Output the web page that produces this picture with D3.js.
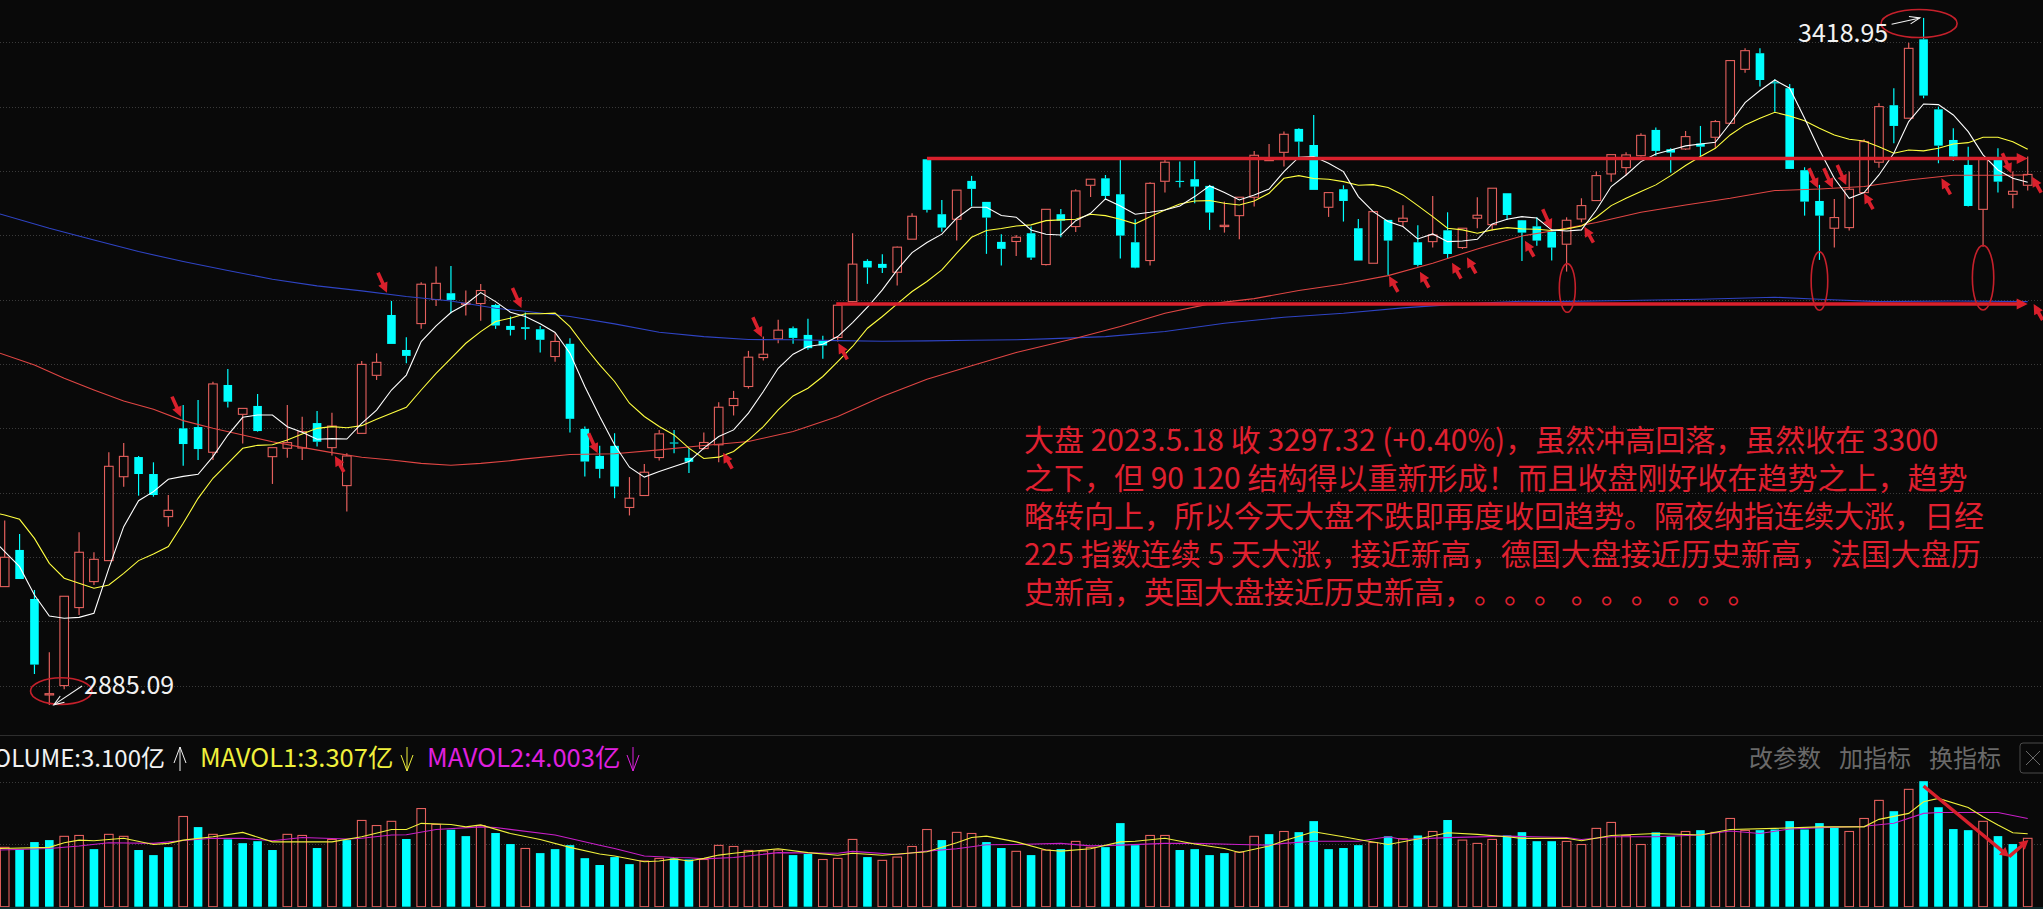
<!DOCTYPE html>
<html>
<head>
<meta charset="utf-8">
<script src="https://cdn.jsdelivr.net/npm/d3@7/dist/d3.min.js"></script>
<style>
html, body { margin: 0; padding: 0; background: #090909; overflow: hidden; }
svg { display: block; }
text { font-family: "Noto Sans CJK SC", "Noto Sans", sans-serif; text-spacing-trim: space-all; }
</style>
</head>
<body>
<div id="chart"></div>
<script>
// daily candles, index points
var opens = [2977.0,3005.5,2967.4,2892.8,2900.1,2960.7,2980.9,2997.2,3062.4,3077.7,3064.5,3031.4,3100.0,3101.0,3081.4,3133.7,3110.9,3117.4,3078.0,3084.5,3084.7,3104.1,3085.0,3055.5,3096.1,3141.2,3188.1,3160.9,3181.4,3200.1,3205.0,3196.4,3197.0,3195.9,3179.6,3178.6,3177.0,3155.8,3165.7,3099.6,3078.6,3086.4,3038.5,3047.8,3077.3,3089.0,3077.1,3084.3,3087.2,3117.7,3132.5,3155.0,3169.5,3177.8,3172.6,3168.0,3170.6,3198.5,3230.1,3227.8,3221.3,3247.0,3309.1,3266.4,3262.5,3292.3,3276.0,3244.9,3245.2,3251.6,3227.3,3266.4,3256.8,3288.9,3294.3,3281.9,3244.6,3230.4,3292.0,3292.3,3293.6,3288.4,3256.8,3265.3,3279.6,3308.1,3314.5,3332.7,3320.2,3271.8,3285.8,3255.5,3228.3,3262.0,3260.7,3244.6,3245.1,3253.9,3240.5,3263.3,3258.3,3282.7,3261.7,3257.0,3252.9,3243.1,3262.7,3277.0,3297.7,3302.6,3311.9,3331.9,3316.9,3317.1,3321.3,3326.2,3337.1,3379.0,3391.5,3368.9,3364.3,3300.6,3276.7,3255.5,3256.0,3283.2,3306.8,3351.1,3341.0,3402.3,3347.9,3324.1,3304.7,3270.2,3308.6,3281.9,3288.9];
var closes = [2999.8,2982.9,2916.4,2893.8,2969.5,3003.7,2998.2,3070.5,3078.2,3064.5,3048.2,3036.3,3087.8,3083.9,3134.5,3120.7,3115.5,3097.9,3085.0,3088.9,3097.4,3089.6,3101.8,3078.5,3149.7,3151.3,3165.6,3156.3,3212.0,3212.7,3199.8,3197.2,3207.1,3179.9,3176.5,3177.3,3168.8,3167.5,3107.4,3074.2,3068.5,3054.8,3045.7,3065.9,3095.7,3088.2,3074.0,3089.0,3116.4,3123.2,3155.3,3157.6,3176.3,3170.3,3162.3,3164.4,3195.7,3227.6,3225.0,3224.7,3240.8,3264.8,3269.8,3256.0,3285.1,3286.1,3263.8,3239.5,3248.5,3232.7,3270.2,3261.4,3284.5,3293.6,3280.6,3249.8,3224.9,3290.4,3306.8,3291.5,3287.9,3267.7,3257.8,3279.6,3312.2,3308.8,3328.5,3322.8,3285.3,3283.2,3276.7,3230.4,3268.4,3245.9,3263.3,3227.0,3250.3,3235.5,3255.5,3265.6,3286.6,3265.8,3252.1,3245.9,3240.5,3261.7,3273.1,3296.4,3312.7,3312.5,3327.7,3315.6,3314.3,3326.7,3318.9,3338.4,3385.8,3393.5,3370.7,3368.1,3301.6,3276.2,3265.3,3263.8,3285.8,3322.8,3350.0,3335.0,3395.3,3358.6,3319.7,3311.2,3272.8,3309.9,3291.7,3284.2,3297.32];
var highs = [3028.3,3017.9,2974.4,2926.0,2969.5,3019.2,3003.7,3081.4,3088.6,3078.5,3073.6,3048.2,3118.1,3122.0,3136.3,3146.1,3115.5,3126.7,3085.0,3118.1,3109.1,3113.5,3112.2,3080.6,3152.3,3158.3,3199.0,3170.8,3213.5,3225.7,3226.2,3207.1,3212.2,3196.7,3186.9,3190.0,3179.6,3173.9,3170.1,3101.4,3086.4,3096.2,3062.1,3072.2,3098.8,3098.8,3084.6,3096.8,3120.3,3129.1,3160.2,3171.3,3184.3,3179.1,3185.1,3171.9,3195.7,3251.6,3231.4,3235.3,3241.3,3267.2,3309.1,3277.5,3285.1,3296.2,3276.0,3250.9,3250.3,3256.8,3270.2,3270.5,3285.8,3293.6,3296.9,3308.6,3262.5,3291.2,3308.6,3307.3,3307.8,3289.2,3276.2,3279.6,3315.6,3321.0,3330.6,3333.2,3343.5,3283.2,3288.9,3262.7,3268.4,3262.0,3273.4,3257.8,3280.6,3267.9,3255.5,3279.6,3286.6,3282.7,3262.0,3264.0,3254.2,3264.0,3278.8,3299.5,3312.7,3314.5,3329.3,3333.7,3317.6,3331.1,3335.0,3339.7,3385.8,3395.3,3395.3,3371.3,3367.6,3302.9,3289.2,3278.3,3299.5,3324.6,3352.6,3364.3,3399.7,3418.95,3350.0,3333.2,3318.9,3309.9,3317.6,3299.5,3311.2];
var lows = [2977.0,2982.9,2909.1,2885.09,2897.2,2955.0,2978.3,2997.2,3054.7,3047.7,3046.9,3023.6,3071.0,3075.4,3075.4,3116.1,3088.3,3097.4,3056.8,3077.2,3075.4,3085.8,3078.8,3035.3,3096.1,3137.6,3165.6,3150.6,3177.3,3195.1,3189.4,3187.6,3183.7,3177.3,3172.1,3168.8,3158.9,3151.7,3096.8,3062.6,3061.3,3045.7,3032.3,3047.8,3075.0,3080.7,3065.2,3083.3,3073.7,3110.0,3130.9,3152.7,3166.2,3165.7,3161.0,3154.0,3167.5,3198.0,3212.3,3220.8,3211.0,3247.0,3267.7,3252.7,3245.9,3272.4,3235.6,3226.5,3234.0,3230.9,3226.5,3248.5,3252.6,3279.8,3277.5,3231.9,3224.4,3226.5,3283.2,3287.1,3274.9,3254.2,3252.1,3246.9,3272.3,3307.8,3303.4,3309.9,3285.3,3264.3,3260.7,3230.4,3228.3,3219.2,3256.8,3225.7,3240.5,3232.2,3239.4,3255.5,3253.7,3262.0,3230.1,3241.8,3230.4,3221.8,3260.1,3277.0,3291.7,3296.4,3311.2,3311.9,3298.7,3316.3,3311.2,3317.6,3336.6,3376.4,3365.6,3346.1,3301.6,3265.3,3230.9,3240.5,3253.7,3282.7,3302.6,3321.5,3341.0,3356.5,3306.0,3307.8,3272.3,3241.2,3283.2,3271.0,3284.8];

// moving averages on the price panel, the lines run on past the first candle to the window edge
var EDGE = -0.32;
var ma5 = [3004.2,2992.5,2970.5,2954.2,2952.4,2953.1,2956.3,2991.2,3023.6,3043.8,3050.8,3060.4,3062.7,3064.3,3078.0,3094.8,3108.6,3110.4,3110.4,3101.3,3096.9,3091.5,3092.0,3091.7,3103.9,3114.2,3129.8,3141.4,3167.4,3179.6,3190.0,3196.4,3205.5,3198.5,3190.2,3186.9,3181.2,3174.5,3158.4,3132.5,3109.2,3087.2,3069.8,3062.1,3066.5,3070.3,3074.2,3084.6,3093.6,3098.8,3111.8,3128.6,3146.7,3157.6,3163.6,3165.4,3171.3,3182.2,3194.1,3207.6,3223.1,3236.6,3244.4,3250.9,3263.3,3271.8,3271.8,3265.4,3264.1,3254.2,3250.8,3250.3,3261.4,3267.1,3278.3,3272.8,3266.4,3267.9,3269.7,3272.8,3280.1,3288.4,3283.2,3277.5,3281.4,3286.0,3299.5,3310.7,3311.2,3306.0,3299.5,3280.1,3268.4,3260.7,3256.8,3247.2,3251.1,3245.1,3245.6,3246.9,3258.9,3262.5,3264.5,3263.5,3254.2,3253.4,3254.2,3269.7,3287.9,3296.9,3307.3,3313.2,3316.3,3319.5,3321.0,3322.3,3337.1,3353.1,3362.5,3370.7,3364.3,3341.0,3316.3,3294.3,3278.8,3283.2,3296.9,3313.8,3338.4,3352.1,3351.6,3343.5,3330.6,3312.5,3300.8,3294.3,3291.2];
var ma10 = [3032.7,3029.3,3014.5,2995.1,2983.5,2979.6,2975.7,2978.3,2987.3,2997.2,3002.4,3008.1,3026.2,3045.6,3061.2,3072.8,3084.5,3086.8,3087.3,3090.9,3095.6,3100.0,3101.3,3100.5,3102.1,3107.0,3111.7,3116.3,3129.8,3142.7,3154.4,3166.1,3175.2,3183.0,3185.6,3189.0,3189.0,3189.5,3179.1,3163.6,3149.3,3136.4,3119.5,3109.2,3101.4,3094.9,3084.6,3076.6,3077.6,3082.0,3091.1,3101.4,3114.4,3125.2,3131.2,3140.3,3151.9,3163.6,3177.8,3186.9,3196.7,3206.3,3214.1,3223.1,3236.1,3248.5,3253.7,3255.3,3257.3,3258.1,3261.4,3262.0,3262.5,3266.4,3265.3,3262.5,3258.9,3264.5,3269.7,3274.4,3276.7,3277.0,3274.9,3273.6,3276.7,3282.7,3294.3,3296.4,3294.1,3293.6,3291.7,3288.9,3289.4,3287.1,3281.4,3273.1,3264.5,3255.5,3254.2,3251.6,3254.2,3256.0,3255.0,3254.7,3253.7,3255.0,3257.3,3264.0,3273.1,3278.8,3284.0,3289.2,3296.4,3304.2,3311.2,3317.6,3328.0,3335.8,3341.0,3345.6,3342.8,3339.1,3333.2,3328.0,3324.6,3323.3,3318.9,3313.8,3316.3,3315.6,3317.6,3321.0,3322.0,3326.2,3326.2,3322.8,3316.9];
var ma5Edge = 3008.1, ma10Edge = 3033.4;
var ma60Idx = [EDGE,2,4,6,8,10,12,14,16,18,20,22,24,26,28,30,32,34,35,38,41,44,47,50,53,56,59,62,65,68,72,75,78,81,84,87,90,93,96,99,102,104,107,110,113,116,119,122,125,128,131,134,136];
var ma60 = [3158.4,3149.2,3138.9,3129.8,3121.2,3114.8,3106.0,3100.0,3094.8,3089.6,3085.2,3081.1,3077.5,3075.4,3072.8,3071.3,3072.8,3074.9,3076.3,3079.7,3080.2,3083.3,3086.7,3089.8,3097.5,3109.2,3124.7,3138.2,3148.6,3158.9,3170.0,3179.1,3189.4,3196.7,3200.8,3207.1,3212.2,3218.7,3228.3,3239.4,3249.5,3253.4,3259.9,3267.9,3273.6,3278.8,3284.8,3286.0,3287.9,3293.0,3296.7,3296.7,3296.9];
var ma120Idx = [EDGE,3,6,9,12,15,18,21,24,27,30,33,35,38,41,44,47,50,53,56,59,62,65,68,70,74,78,82,86,90,94,98,102,104,109,114,119,122,126,131,136];
var ma120 = [3266.6,3255.5,3246.4,3237.4,3229.6,3222.6,3215.9,3210.7,3206.8,3202.4,3199.0,3193.3,3191.0,3186.9,3181.2,3174.7,3171.3,3169.0,3168.8,3168.2,3167.7,3168.0,3168.5,3168.8,3169.5,3171.3,3175.2,3181.7,3186.3,3189.4,3193.6,3196.7,3198.8,3198.5,3199.3,3200.3,3201.9,3200.3,3198.5,3199.0,3198.5];

// volume panel, in 亿
var volumes = [2.69,2.60,2.93,3.02,3.19,3.23,2.61,3.28,3.19,2.57,2.34,2.70,4.09,3.61,3.28,3.05,2.88,2.97,2.57,3.28,3.23,2.66,3.05,3.02,3.91,3.68,3.87,3.07,4.45,3.73,3.49,3.20,3.68,3.34,2.84,2.64,2.43,2.61,2.79,2.20,1.89,2.25,1.93,2.07,2.19,2.19,2.14,2.14,2.78,2.73,2.55,2.52,2.57,2.34,2.39,2.14,2.19,3.05,2.25,2.10,2.25,2.73,3.50,3.02,3.37,3.32,2.93,2.66,2.51,2.34,2.57,2.61,2.96,2.69,2.70,3.79,2.79,3.23,3.23,2.57,2.61,2.34,2.43,2.48,3.19,3.29,3.41,3.38,3.88,2.61,2.66,2.79,2.91,3.19,3.08,3.23,3.41,3.93,3.02,2.87,3.05,3.23,3.38,2.97,2.97,2.96,2.82,3.55,3.82,3.23,2.82,3.37,3.19,3.41,3.47,3.37,4.00,3.46,3.47,3.50,3.88,3.50,3.79,3.58,3.41,4.00,4.82,4.33,5.32,5.69,4.51,3.52,3.47,3.87,3.20,2.84,3.10];
var volumeUp = [1,0,0,0,1,1,0,1,1,0,0,0,1,0,1,0,0,0,0,1,1,0,1,0,1,1,1,0,1,1,0,0,1,0,0,1,0,0,0,0,0,0,0,1,1,0,0,1,1,1,1,1,1,0,0,1,1,1,0,1,1,1,1,0,1,1,0,0,1,0,1,0,1,1,0,0,0,1,1,0,0,0,0,1,1,0,1,0,0,0,0,0,1,0,1,0,1,0,1,1,1,0,0,0,0,1,1,1,1,1,1,0,0,1,0,1,1,1,0,0,0,0,0,0,1,1,1,0,1,0,0,0,0,1,0,0,1];
var mavol1Idx = [EDGE,3,4,5,6,8,10,11,12,14,16,18,20,22,24,26,27,28,30,31,32,34,36,38,40,41,43,44,45,46,47,48,49,52,54,56,57,59,62,64,65,66,68,70,71,73,75,76,78,80,82,83,85,86,88,90,91,93,95,97,99,101,102,105,106,108,111,114,116,119,122,125,126,128,129,130,132,133,134,135,136];
var mavol1 = [2.64,2.69,2.90,3.02,2.99,3.10,2.82,2.87,3.02,3.17,3.37,2.94,2.94,2.94,3.17,3.50,3.50,3.78,3.73,3.62,3.71,3.32,3.05,2.69,2.39,2.30,2.04,2.07,2.17,2.07,2.19,2.34,2.42,2.63,2.45,2.33,2.42,2.33,2.49,2.90,3.14,3.20,2.94,2.57,2.52,2.63,2.94,2.97,3.10,2.84,2.64,2.46,2.75,2.99,3.40,3.17,3.05,2.82,3.07,3.35,3.28,3.17,3.10,3.10,2.99,3.23,3.32,3.25,3.50,3.55,3.62,3.62,3.96,4.23,4.76,4.91,4.50,4.08,3.70,3.35,3.31];
var mavol2Idx = [EDGE,3,5,7,10,12,14,16,18,20,23,24,26,27,29,32,33,37,40,41,43,45,46,47,49,52,56,57,60,62,64,66,68,71,73,75,78,80,83,85,86,88,91,93,94,97,101,105,106,108,111,114,116,118,120,123,125,127,129,130,134,136];
var mavol2 = [2.57,2.64,2.75,2.90,2.87,3.00,3.10,3.10,2.99,3.14,3.07,3.10,3.25,3.26,3.50,3.62,3.59,3.25,2.79,2.64,2.30,2.23,2.22,2.17,2.23,2.45,2.42,2.51,2.37,2.52,2.63,2.81,2.82,2.87,2.76,2.79,2.87,2.87,2.82,2.79,2.87,2.97,2.97,3.17,3.05,3.13,3.20,3.14,3.05,3.17,3.17,3.25,3.43,3.32,3.52,3.61,3.65,3.78,4.23,4.27,4.27,4.00];

// grid levels
var gridPrices = [3400,3350,3300,3250,3200,3150,3100,3050,3000,2950,2900];
var gridVolumes = [2.83,5.67];

// hand drawn marks from the screenshot
var levelLines = [
    {start: 62, price: 3309.7},
    {start: 55.9, price: 3196.6}
];
var arrowTips = [
    [11.85,3109.1,"down"],[22.2,3078.5,"up"],[25.7,3205.4,"down"],[34.74,3193.5,"down"],
    [39.86,3080.6,"down"],[48.3,3081.1,"up"],[50.9,3170.8,"down"],[56.04,3166.1,"up"],
    [93.06,3218.4,"up"],[95.14,3221.7,"up"],[97.3,3228.7,"up"],[98.3,3232.9,"up"],
    [102.2,3245.8,"up"],[104,3254.7,"down"],[106.2,3256.7,"up"],[121.9,3286.5,"down"],
    [122.9,3286.5,"down"],[123.8,3289.1,"down"],[125,3282.7,"up"],[130.2,3294.3,"up"],
    [134.9,3298.2,"down"],[136.3,3295.6,"up"],[136.4,3196.6,"up"]
];
var ovals = [
    [3.8,2895.8],[128.7,3414.6],[105.05,3209.1],[122,3214.5],[133,3217.1]
];
var volTrend = [[129,5.47],[134.75,2.27],[136.05,3.02]];

var noteLines = [
    "大盘 2023.5.18 收 3297.32 (+0.40%)，虽然冲高回落，虽然收在 3300",
    "之下，但 90 120 结构得以重新形成！而且收盘刚好收在趋势之上，趋势",
    "略转向上，所以今天大盘不跌即再度收回趋势。隔夜纳指连续大涨，日经",
    "225 指数连续 5 天大涨，接近新高，德国大盘接近历史新高，法国大盘历",
    "史新高，英国大盘接近历史新高，。。。 。。。 。。。"
];

var WIDTH = 2043, HEIGHT = 909;
var UP = "#e4605d", DOWN = "#00ffff", BG = "#090909", MARK = "#d9202c";

var svg = d3.select("#chart").append("svg")
    .attr("width", WIDTH)
    .attr("height", HEIGHT)
    .style("background", BG);

var x = d3.scaleLinear().domain([0, 136]).range([4.7, 2027.7]);
var y = d3.scaleLinear().domain([2900, 3400]).range([685.7, 42.3]);
var yVol = d3.scaleLinear().domain([0, 5.69]).range([906.7, 781.2]);

var candles = d3.range(opens.length).map(function(i) {
    return {i: i, open: opens[i], close: closes[i], high: highs[i], low: lows[i], up: closes[i] >= opens[i]};
});
var bodyW = 8.6;

/*-------------grid---------------------*/
svg.append("g").selectAll("line")
    .data(gridPrices)
    .enter().append("line")
    .attr("x1", 0).attr("x2", WIDTH)
    .attr("y1", function(d) { return Math.round(y(d)) + 0.5; })
    .attr("y2", function(d) { return Math.round(y(d)) + 0.5; })
    .attr("stroke", "#3a3a3a")
    .attr("stroke-dasharray", "1 2");

svg.append("g").selectAll("line")
    .data(gridVolumes)
    .enter().append("line")
    .attr("x1", 0).attr("x2", WIDTH)
    .attr("y1", function(d) { return Math.round(yVol(d)) + 0.5; })
    .attr("y2", function(d) { return Math.round(yVol(d)) + 0.5; })
    .attr("stroke", "#3a3a3a")
    .attr("stroke-dasharray", "1 2");

svg.append("line")
    .attr("x1", 0).attr("x2", WIDTH)
    .attr("y1", 735.5).attr("y2", 735.5)
    .attr("stroke", "#2e2e2e");

/*-------------candles---------------------*/
var candle = svg.append("g").selectAll("g")
    .data(candles)
    .enter().append("g");

candle.append("line")
    .attr("x1", function(d) { return x(d.i); })
    .attr("x2", function(d) { return x(d.i); })
    .attr("y1", function(d) { return y(d.high); })
    .attr("y2", function(d) { return y(Math.max(d.open, d.close)); })
    .attr("stroke", function(d) { return d.up ? UP : DOWN; })
    .attr("stroke-width", 1.2);

candle.append("line")
    .attr("x1", function(d) { return x(d.i); })
    .attr("x2", function(d) { return x(d.i); })
    .attr("y1", function(d) { return y(Math.min(d.open, d.close)); })
    .attr("y2", function(d) { return y(d.low); })
    .attr("stroke", function(d) { return d.up ? UP : DOWN; })
    .attr("stroke-width", 1.2);

candle.append("rect")
    .attr("x", function(d) { return x(d.i) - bodyW / 2; })
    .attr("width", bodyW)
    .attr("y", function(d) { return y(Math.max(d.open, d.close)); })
    .attr("height", function(d) { return Math.max(1, y(Math.min(d.open, d.close)) - y(Math.max(d.open, d.close))); })
    .attr("fill", function(d) { return d.up ? BG : DOWN; })
    .attr("stroke", function(d) { return d.up ? UP : "none"; })
    .attr("stroke-width", 1.1);

/*-------------moving averages---------------------*/
var line = d3.line()
    .x(function(d) { return x(d[0]); })
    .y(function(d) { return y(d[1]); });

function pairs(idx, vals) {
    return idx.map(function(v, k) { return [v, vals[k]]; });
}

var maSeries = [
    {data: pairs(ma120Idx, ma120), color: "#2f44c4"},
    {data: pairs(ma60Idx, ma60), color: "#e04644"},
    {data: [[EDGE, ma10Edge]].concat(pairs(d3.range(ma10.length), ma10)), color: "#ffff40"},
    {data: [[EDGE, ma5Edge]].concat(pairs(d3.range(ma5.length), ma5)), color: "#ffffff"}
];

svg.append("g").selectAll("path")
    .data(maSeries)
    .enter().append("path")
    .attr("d", function(d) { return line(d.data); })
    .attr("fill", "none")
    .attr("stroke", function(d) { return d.color; })
    .attr("stroke-width", 1.1);

/*-------------volume---------------------*/
var bars = svg.append("g").selectAll("rect")
    .data(volumes)
    .enter().append("rect")
    .attr("x", function(d, i) { return x(i) - bodyW / 2; })
    .attr("width", bodyW)
    .attr("y", function(d) { return yVol(d); })
    .attr("height", function(d) { return yVol(0) - yVol(d); })
    .attr("fill", function(d, i) { return volumeUp[i] ? BG : DOWN; })
    .attr("stroke", function(d, i) { return volumeUp[i] ? UP : "none"; })
    .attr("stroke-width", 1.1);

var volLine = d3.line()
    .x(function(d) { return x(d[0]); })
    .y(function(d) { return yVol(d[1]); });

svg.append("path")
    .attr("d", volLine(pairs(mavol2Idx, mavol2)))
    .attr("fill", "none")
    .attr("stroke", "#c81fc8")
    .attr("stroke-width", 1.1);

svg.append("path")
    .attr("d", volLine(pairs(mavol1Idx, mavol1)))
    .attr("fill", "none")
    .attr("stroke", "#f0f03c")
    .attr("stroke-width", 1.1);

svg.append("rect")
    .attr("x", 0).attr("y", 907).attr("width", WIDTH).attr("height", 2)
    .attr("fill", "#0f2a2c");

/*-------------annotations---------------------*/
function fatArrow(x1, y1, x2, y2, w, headLen, headW) {
    var a = Math.atan2(y2 - y1, x2 - x1);
    var c = Math.cos(a), s = Math.sin(a);
    var bx = x2 - c * headLen, by = y2 - s * headLen;
    var pts = [
        [x1 + s * w / 2, y1 - c * w / 2],
        [bx + s * w / 2, by - c * w / 2],
        [bx + s * headW / 2, by - c * headW / 2],
        [x2, y2],
        [bx - s * headW / 2, by + c * headW / 2],
        [bx - s * w / 2, by + c * w / 2],
        [x1 - s * w / 2, y1 + c * w / 2]
    ];
    return "M" + pts.join("L") + "Z";
}

var marks = svg.append("g");

marks.selectAll("path.level")
    .data(levelLines)
    .enter().append("path")
    .attr("class", "level")
    .attr("d", function(d) { return fatArrow(x(d.start), y(d.price), x(136), y(d.price), 3.6, 11, 11); })
    .attr("fill", MARK);

marks.selectAll("path.tip")
    .data(arrowTips)
    .enter().append("path")
    .attr("class", "tip")
    .attr("d", function(d) {
        var tx = x(d[0]), ty = y(d[1]);
        var back = d[2] == "down" ? [-9, -20] : [9, 16];
        return fatArrow(tx + back[0], ty + back[1], tx, ty, 3.6, 10, 10);
    })
    .attr("fill", MARK);

// rings round the extremes and the three long lower shadows
var ringSize = [[30.7, 13.3], [38, 14], [8, 24.3], [8.3, 29.3], [10.7, 32.3]];
marks.selectAll("ellipse")
    .data(ovals)
    .enter().append("ellipse")
    .attr("cx", function(d) { return x(d[0]); })
    .attr("cy", function(d) { return y(d[1]); })
    .attr("rx", function(d, i) { return ringSize[i][0]; })
    .attr("ry", function(d, i) { return ringSize[i][1]; })
    .attr("fill", "none")
    .attr("stroke", "#c5202b")
    .attr("stroke-width", 1.6);

var yVolPts = volTrend.map(function(d) { return [x(d[0]), yVol(d[1])]; });
marks.append("path")
    .attr("d", fatArrow(yVolPts[0][0], yVolPts[0][1], yVolPts[1][0], yVolPts[1][1], 3.4, 9, 10))
    .attr("fill", MARK);
marks.append("path")
    .attr("d", fatArrow(yVolPts[1][0], yVolPts[1][1], yVolPts[2][0], yVolPts[2][1], 3.4, 9, 10))
    .attr("fill", MARK);

// white pointers to the low and high
function pointer(x1, y1, x2, y2) {
    var a = Math.atan2(y2 - y1, x2 - x1);
    var g = marks.append("g").attr("stroke", "#f2f2f2").attr("stroke-width", 1.1).attr("fill", "none");
    g.append("line").attr("x1", x1).attr("y1", y1).attr("x2", x2).attr("y2", y2);
    g.append("path").attr("d",
        "M" + (x2 - 11 * Math.cos(a - 0.35)) + "," + (y2 - 11 * Math.sin(a - 0.35)) +
        "L" + x2 + "," + y2 +
        "L" + (x2 - 11 * Math.cos(a + 0.35)) + "," + (y2 - 11 * Math.sin(a + 0.35)));
}
pointer(x(5.2), y(2899.8), x(3.3), y(2885.09));
pointer(x(126.85), y(3414.0), x(128.75), y(3418.95));

/*-------------text---------------------*/
var labels = svg.append("g").attr("font-size", 25).attr("fill", "#f2f2f2");
labels.append("text").attr("x", 84).attr("y", 694).text("2885.09");
labels.append("text").attr("x", 1798).attr("y", 42).text("3418.95");

svg.append("g").selectAll("text")
    .data(noteLines)
    .enter().append("text")
    .attr("x", 1024)
    .attr("y", function(d, i) { return [451, 489, 527, 565, 603][i]; })
    .attr("font-size", 30)
    .attr("fill", "#e02030")
    .text(function(d) { return d; });

var legend = svg.append("g").attr("font-size", 25.5);
legend.append("text").attr("x", 165).attr("y", 767).attr("text-anchor", "end").attr("font-size", 24).attr("fill", "#f2f2f2").text("VOLUME:3.100亿");
legend.append("text").attr("x", 200).attr("y", 767).attr("fill", "#f0f03c").text("MAVOL1:3.307亿");
legend.append("text").attr("x", 427).attr("y", 767).attr("fill", "#e020e0").text("MAVOL2:4.003亿");

function legendArrow(xp, upward, color) {
    var y1 = upward ? 771 : 747, y2 = upward ? 747 : 771, d = upward ? 8 : -8;
    var g = legend.append("g").attr("stroke", color).attr("stroke-width", 1).attr("fill", "none");
    g.append("line").attr("x1", xp).attr("x2", xp).attr("y1", y1).attr("y2", y2);
    g.append("path").attr("d", "M" + (xp - 6) + "," + (y2 + d * 2) + "L" + xp + "," + y2 + "L" + (xp + 6) + "," + (y2 + d * 2));
}
legendArrow(180, true, "#f2f2f2");
legendArrow(407, false, "#f0f03c");
legendArrow(633, false, "#e020e0");

var buttons = svg.append("g").attr("font-size", 24).attr("fill", "#6a6a6a");
buttons.append("text").attr("x", 1749).attr("y", 767).text("改参数");
buttons.append("text").attr("x", 1839).attr("y", 767).text("加指标");
buttons.append("text").attr("x", 1929).attr("y", 767).text("换指标");

svg.append("rect")
    .attr("x", 2020).attr("y", 743).attr("width", 40).attr("height", 30).attr("rx", 3)
    .attr("fill", "none").attr("stroke", "#4a4a4a");
svg.append("path")
    .attr("d", "M2026,751L2040,765M2040,751L2026,765")
    .attr("stroke", "#6a6a6a").attr("fill", "none");
</script>
</body>
</html>
